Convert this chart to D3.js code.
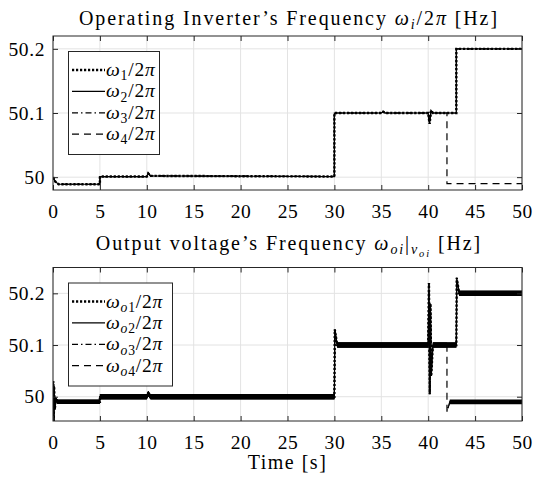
<!DOCTYPE html>
<html>
<head>
<meta charset="utf-8">
<script src="https://d3js.org/d3.v7.min.js"></script>
<style>
  body { margin: 0; background: #fff; }
  text { font-family: "Liberation Serif", serif; fill: #000; }
</style>
</head>
<body>
<svg width="541" height="481"></svg>
<script>
// ---- data ----
const xTicks = [0, 5, 10, 15, 20, 25, 30, 35, 40, 45, 50];
const yTicksTop = [50, 50.1, 50.2];
const yTicksBottom = [50, 50.1, 50.2];

// operating inverter frequency, w1..w3 (they overlap)
const invTime = [0, 0.25, 0.6, 5, 5, 10, 10.15, 10.4, 30, 30, 35, 35.2, 35.4, 40, 40.15, 40.3, 40.5, 43, 43, 50];
const invFreq = [50.0, 49.993, 49.989, 49.989, 50.001, 50.001, 50.006, 50.002, 50.001, 50.1, 50.1, 50.102, 50.1, 50.1, 50.083, 50.104, 50.1, 50.1, 50.2, 50.2];
// w4 drops at 42 s
const inv4Time = [0, 0.25, 0.6, 5, 5, 10, 10.15, 10.4, 30, 30, 35, 35.2, 35.4, 40, 40.15, 40.3, 40.5, 42, 42, 50];
const inv4Freq = [50.0, 49.993, 49.989, 49.989, 50.001, 50.001, 50.006, 50.002, 50.001, 50.1, 50.1, 50.102, 50.1, 50.1, 50.083, 50.104, 50.1, 50.1, 49.99, 49.99];

// output voltage frequency (noisy): centre value and half-width of the noise band
const outTime = [0, 0.04, 0.08, 0.12, 0.18, 0.3, 0.5, 5, 5, 10, 10.15, 10.4, 30, 30.04, 30.3, 40, 40.08, 40.16, 40.24, 40.32, 40.5, 43, 43.04, 43.3, 50];
const outFreq = [49.99, 50.03, 49.953, 50.02, 49.975, 49.995, 49.99, 49.99, 50.0, 50.0, 50.006, 50.0, 50.0, 50.13, 50.1, 50.1, 50.22, 50.005, 50.18, 50.04, 50.1, 50.1, 50.23, 50.2, 50.2];
const outNoise = [0, 0, 0, 0, 0, 0.004, 0.004, 0.004, 0.005, 0.005, 0.005, 0.005, 0.005, 0, 0.005, 0.005, 0, 0, 0, 0, 0.005, 0.005, 0, 0.005, 0.005];
const out4Time = [0, 0.04, 0.08, 0.12, 0.18, 0.3, 0.5, 5, 5, 10, 10.15, 10.4, 30, 30.04, 30.3, 40, 40.08, 40.16, 40.24, 40.32, 40.5, 42, 42, 42.3, 50];
const out4Freq = [49.99, 50.03, 49.953, 50.02, 49.975, 49.995, 49.99, 49.99, 50.0, 50.0, 50.006, 50.0, 50.0, 50.13, 50.1, 50.1, 50.22, 50.005, 50.18, 50.04, 50.1, 50.1, 49.97, 49.99, 49.99];
const out4Noise = [0, 0, 0, 0, 0, 0.004, 0.004, 0.004, 0.005, 0.005, 0.005, 0.005, 0.005, 0, 0.005, 0.005, 0, 0, 0, 0, 0.005, 0.005, 0, 0.0045, 0.0045];

const zip = (t, v, n) => t.map((d, i) => ({t: d, v: v[i], n: n ? n[i] : 0}));

const styles = [
  {dash: "2.2,1.8", w: 2.4},
  {dash: null, w: 1.2},
  {dash: "6,3,1.5,3", w: 1.2},
  {dash: "7,5", w: 1.2}
];

const svg = d3.select("svg");

// rich text with italics and sub/sub-sub scripts
function richText(g, parts, x, y, size, anchor, spacing) {
  const shift = [0, 0.22 * size, 0.36 * size];
  const fs = [size, 0.7 * size, 0.52 * size];
  const t = g.append("text").attr("x", x).attr("y", y)
    .attr("font-size", size).attr("text-anchor", anchor || "start")
    .attr("letter-spacing", spacing || 0);
  let cur = 0;
  parts.forEach(p => {
    const lv = p.l || 0;
    t.append("tspan")
      .attr("dy", shift[lv] - cur)
      .attr("font-size", fs[lv])
      .attr("font-style", p.it ? "italic" : "normal")
      .text(p.t);
    cur = shift[lv];
  });
  return t;
}

function panel(opt) {
  const x = d3.scaleLinear().domain([0, 50]).range([53, 522]);
  const y = d3.scaleLinear().domain(opt.yDomain).range([opt.bottom, opt.top]);
  const g = svg.append("g");
  const id = "clip" + Math.round(opt.top);

  g.append("defs").append("clipPath").attr("id", id)
    .append("rect").attr("x", 53).attr("y", opt.top).attr("width", 469).attr("height", opt.bottom - opt.top);

  // grid
  g.append("g").selectAll("line").data(xTicks).join("line")
    .attr("x1", d => x(d)).attr("x2", d => x(d))
    .attr("y1", opt.top).attr("y2", opt.bottom)
    .attr("stroke", "#e3e3e3");
  g.append("g").selectAll("line").data(opt.yTicks).join("line")
    .attr("y1", d => y(d)).attr("y2", d => y(d))
    .attr("x1", 53).attr("x2", 522)
    .attr("stroke", "#e3e3e3");

  // data
  const plot = g.append("g").attr("clip-path", `url(#${id})`);
  const area = d3.area().x(d => x(d.t)).y0(d => y(d.v - d.n)).y1(d => y(d.v + d.n));
  const line = d3.line().x(d => x(d.t)).y(d => y(d.v));
  if (opt.noisy) {
    opt.series.forEach(s => {
      plot.append("path").datum(s).attr("d", area).attr("fill", "#000");
    });
  }
  opt.series.forEach((s, i) => {
    plot.append("path").datum(s).attr("d", line)
      .attr("fill", "none").attr("stroke", "#000")
      .attr("stroke-width", styles[i].w)
      .attr("stroke-dasharray", styles[i].dash);
  });

  // axes (box with inward ticks)
  const tl = 5;
  g.append("g").attr("transform", `translate(0,${opt.bottom})`)
    .call(d3.axisBottom(x).tickValues(xTicks).tickSizeInner(-tl).tickSizeOuter(0).tickPadding(14).tickFormat(d3.format("d")));
  g.append("g").attr("transform", `translate(0,${opt.top})`)
    .call(d3.axisTop(x).tickValues(xTicks).tickSizeInner(-tl).tickSizeOuter(0).tickFormat(""));
  g.append("g").attr("transform", "translate(53,0)")
    .call(d3.axisLeft(y).tickValues(opt.yTicks).tickSizeInner(-tl).tickSizeOuter(0).tickPadding(8).tickFormat(d => d === 50 ? "50" : d3.format(".1f")(d)));
  g.append("g").attr("transform", "translate(522,0)")
    .call(d3.axisRight(y).tickValues(opt.yTicks).tickSizeInner(-tl).tickSizeOuter(0).tickFormat(""));
  g.selectAll(".domain").remove();
  g.selectAll(".tick line").attr("stroke", "#262626");
  g.selectAll(".tick text").attr("font-size", 19.5).attr("letter-spacing", 0.6).attr("fill", "#000");
  g.append("rect").attr("x", 53).attr("y", opt.top).attr("width", 469).attr("height", opt.bottom - opt.top)
    .attr("fill", "none").attr("stroke", "#262626").attr("stroke-width", 1);

  // title
  richText(g, opt.title, 289, opt.titleY, 20, "middle", 1.9);

  // legend
  const lg = g.append("g");
  lg.append("rect").attr("x", 68.5).attr("y", opt.top + 15.5).attr("width", opt.legendW).attr("height", 103)
    .attr("fill", "#fff").attr("stroke", "#262626");
  opt.legend.forEach((parts, i) => {
    const ly = opt.top + 34 + i * 21.4;
    lg.append("line").attr("x1", 72).attr("x2", 105).attr("y1", ly).attr("y2", ly)
      .attr("stroke", "#000").attr("stroke-width", styles[i].w)
      .attr("stroke-dasharray", styles[i].dash);
    richText(lg, parts, 106, ly + 6, 19.5, "start", 0.8);
  });
}

const om = {t: "ω", it: true};
const legInv = ["1", "2", "3", "4"].map(k => [om, {t: k, l: 1}, {t: "/2"}, {t: "π", it: true}]);
const legOut = ["1", "2", "3", "4"].map(k => [om, {t: "o", it: true, l: 1}, {t: k, l: 1}, {t: "/2"}, {t: "π", it: true}]);

panel({
  top: 36, bottom: 190, yDomain: [49.98, 50.22], yTicks: yTicksTop,
  series: [zip(invTime, invFreq), zip(invTime, invFreq), zip(invTime, invFreq), zip(inv4Time, inv4Freq)],
  noisy: false,
  title: [{t: "Operating Inverter’s Frequency "}, om, {t: "i", it: true, l: 1}, {t: "/2"}, {t: "π", it: true}, {t: " [Hz]"}],
  titleY: 25,
  legend: legInv, legendW: 91
});

panel({
  top: 267.5, bottom: 421, yDomain: [49.953, 50.25], yTicks: yTicksBottom,
  series: [zip(outTime, outFreq, outNoise), zip(outTime, outFreq, outNoise), zip(outTime, outFreq, outNoise), zip(out4Time, out4Freq, out4Noise)],
  noisy: true,
  title: [{t: "Output voltage’s Frequency "}, om, {t: "oi", it: true, l: 1}, {t: "|", l: 0}, {t: "v", it: true, l: 1}, {t: "oi", it: true, l: 2}, {t: " [Hz]", l: 0}],
  titleY: 250,
  legend: legOut, legendW: 104
});

svg.append("text").attr("x", 287.5).attr("y", 469).attr("text-anchor", "middle")
  .attr("font-size", 20).attr("letter-spacing", 1.5).text("Time [s]");
</script>
</body>
</html>
